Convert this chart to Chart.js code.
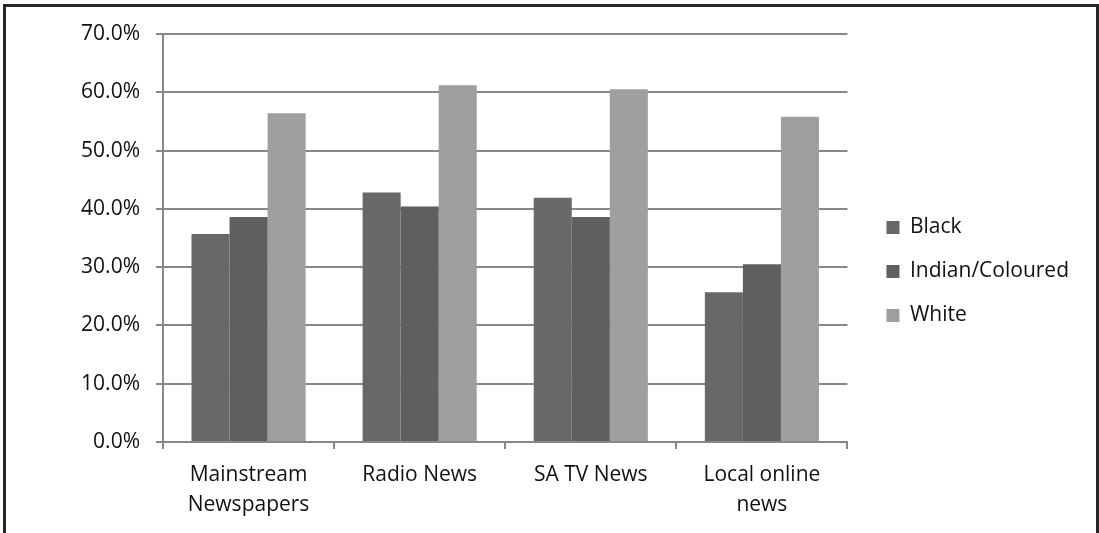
<!DOCTYPE html>
<html>
<head>
<meta charset="utf-8">
<script src="https://cdn.jsdelivr.net/npm/chart.js@4.4.1/dist/chart.umd.min.js"></script>
<style>
  html, body { margin: 0; padding: 0; background: #fff; }
  #wrap { position: relative; width: 1099px; height: 533px; overflow: hidden; }
  #frame {
    position: absolute; left: 3px; top: 4px; width: 1090px; height: 560px;
    border: 3px solid #262626; pointer-events: none;
  }
  canvas { position: absolute; left: 0; top: 0; }
</style>
</head>
<body>
<div id="wrap">
  <canvas id="newsChart" width="1099" height="533"></canvas>
  <div id="frame"></div>
</div>
<script>
// Catégories et séries (en %)
const categories = [['Mainstream', 'Newspapers'], 'Radio News', 'SA TV News', ['Local online', 'news']];
const blackValues = [35.7, 42.8, 41.9, 25.7];
const indianValues = [38.6, 40.4, 38.6, 30.5];
const whiteValues = [56.4, 61.2, 60.5, 55.8];
const yTicks = [0, 10, 20, 30, 40, 50, 60, 70];

const FONT = { family: '"Open Sans", sans-serif', size: 21, lineHeight: 1.42 };
const GRID = '#878787';

// petit décalage de la légende (Chart.js la colle au bord de la zone du graphique)
const legendShift = {
  id: 'legendShift',
  afterLayout(chart) {
    const lg = chart.legend;
    lg.left += 16; lg.right += 16;
    lg.top -= 12; lg.bottom -= 12;
  }
};

new Chart(document.getElementById('newsChart'), {
  type: 'bar',
  data: {
    labels: categories,
    datasets: [
      { label: 'Black', data: blackValues, backgroundColor: '#686868' },
      { label: 'Indian/Coloured', data: indianValues, backgroundColor: '#5f5f5f' },
      { label: 'White', data: whiteValues, backgroundColor: '#9f9f9f' }
    ]
  },
  options: {
    responsive: false,
    animation: false,
    categoryPercentage: 0.667,
    barPercentage: 1.0,
    layout: { padding: { top: 34, right: 36, bottom: 0, left: 0 } },
    plugins: {
      tooltip: { enabled: false },
      legend: {
        position: 'right',
        labels: {
          boxWidth: 13,
          boxHeight: 13,
          padding: 23,
          color: '#111',
          font: FONT
        }
      }
    },
    scales: {
      x: {
        afterFit: (scale) => { scale.height = 91; },
        grid: {
          offset: true,
          drawOnChartArea: false,
          drawTicks: true,
          tickLength: 7,
          color: GRID,
          lineWidth: 2
        },
        border: { display: true, color: GRID, width: 2 },
        ticks: { color: '#111', font: FONT, padding: 11, maxRotation: 0, autoSkip: false }
      },
      y: {
        min: 0,
        max: 70,
        afterFit: (scale) => { scale.width = 163; },
        afterBuildTicks: (scale) => { scale.ticks = yTicks.map(v => ({ value: v })); },
        grid: { color: GRID, lineWidth: 2, tickLength: 7 },
        border: { display: true, color: GRID, width: 2 },
        ticks: {
          color: '#111',
          font: FONT,
          padding: 16,
          callback: (v) => v.toFixed(1) + '%'
        }
      }
    }
  },
  plugins: [legendShift]
});
</script>
</body>
</html>
